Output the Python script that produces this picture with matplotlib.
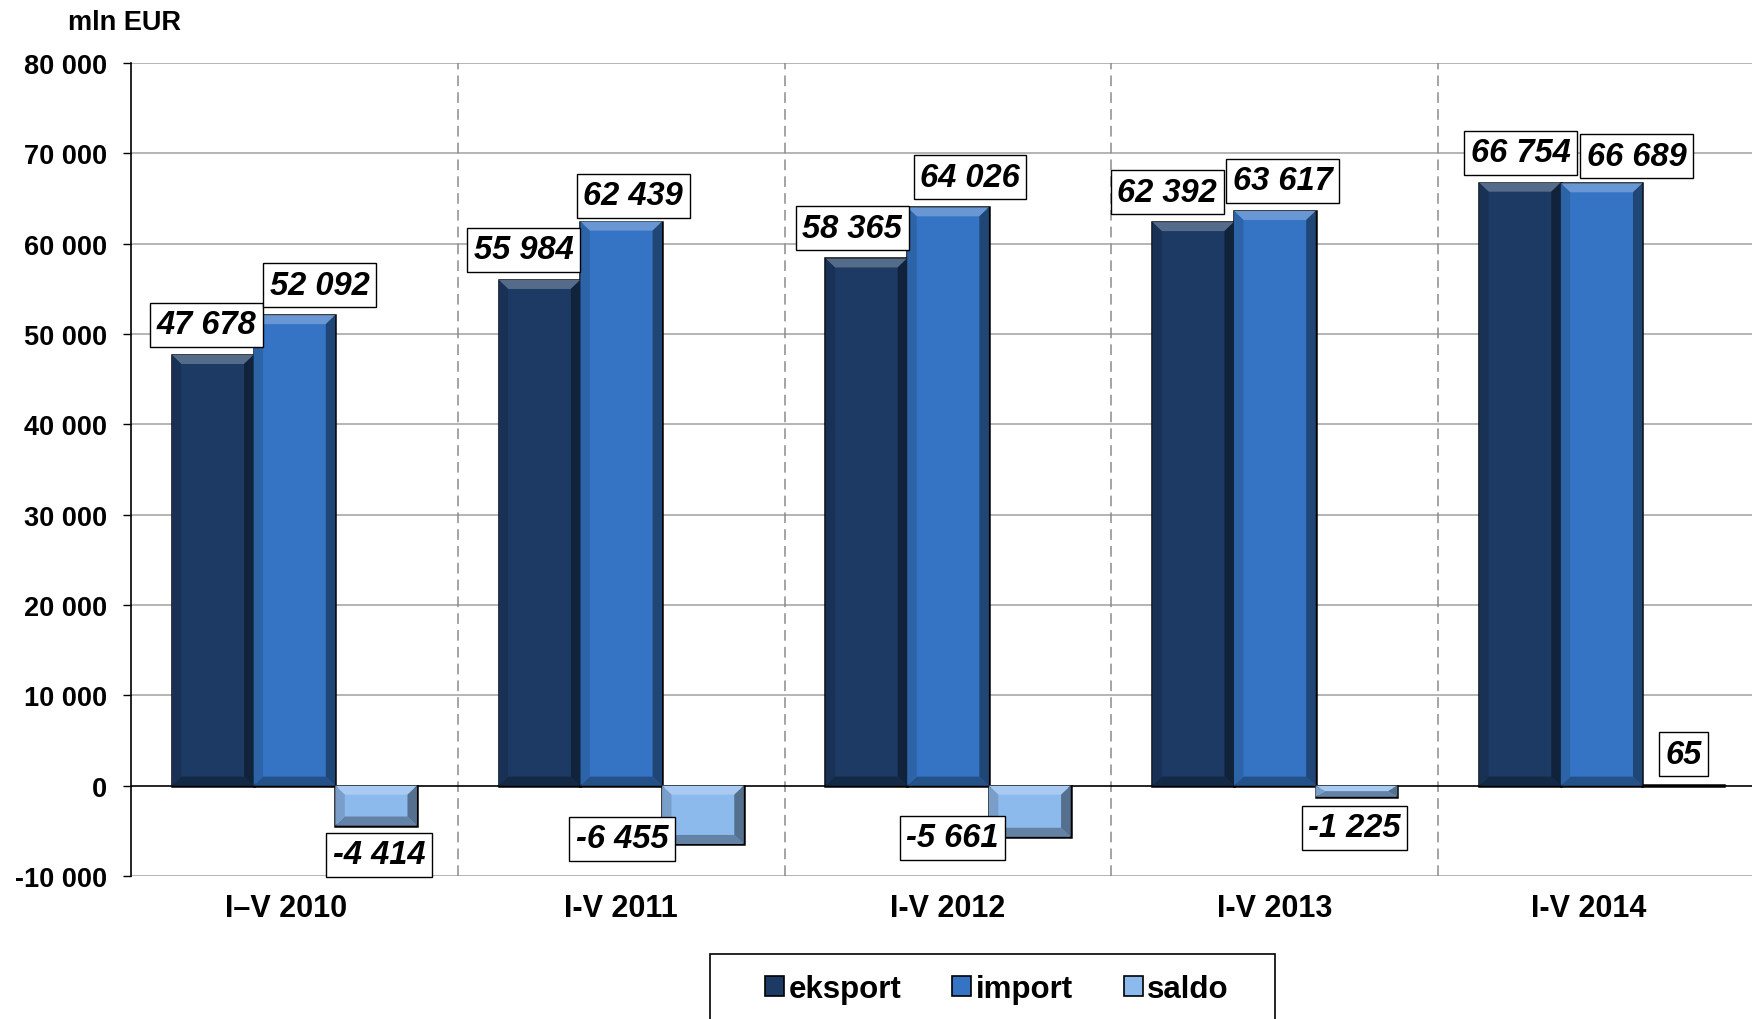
import matplotlib
matplotlib.use("Agg")
import matplotlib.pyplot as plt
from matplotlib.patches import Polygon, Patch, Rectangle
from matplotlib.colors import to_rgb

# data (mln EUR)
periods = ["I–V 2010", "I-V 2011", "I-V 2012", "I-V 2013", "I-V 2014"]
eksport = [47678, 55984, 58365, 62392, 66754]
imports = [52092, 62439, 64026, 63617, 66689]
saldo = [-4414, -6455, -5661, -1225, 65]
series_names = ["eksport", "import", "saldo"]

# label placement tweaks (pixels): x shift, distance from bar end
eks_dx = [-6, -16, -14, -26, 1]
imp_dx = [25, 12, 22, 8, 35]
sal_dx = [3, -81, -77, -2, 0]
eks_dy = [30, 30, 30, 30, 30]
imp_dy = [30, 26, 30, 30, 27]
sal_dy = [29, -5, 1, 31, 31]
# category label nudges (axis units)
cat_dx = [-0.024, 0, 0, 0, -0.04]

colors = ["#1C3A63", "#3574C4", "#8DBAEC"]
W = 0.25


def mix(c, other, t):
    c = to_rgb(c)
    o = to_rgb(other)
    return tuple(a * (1 - t) + b * t for a, b in zip(c, o))


def fmt(v):
    s = f"{abs(v):,}".replace(",", " ")
    return "-" + s if v < 0 else s


def bevel(ax, xc, v, color):
    x0, x1 = xc - W / 2, xc + W / 2
    y0, y1 = min(0, v), max(0, v)
    bx = 0.029
    by = min(1000, (y1 - y0) / 2)
    if by < 50:
        return
    parts = [
        ([(x0, y1), (x1, y1), (x1 - bx, y1 - by), (x0 + bx, y1 - by)], mix(color, "white", 0.25)),
        ([(x0, y0), (x1, y0), (x1 - bx, y0 + by), (x0 + bx, y0 + by)], mix(color, "black", 0.3)),
        ([(x0, y0), (x0, y1), (x0 + bx, y1 - by), (x0 + bx, y0 + by)], mix(color, "black", 0.15)),
        ([(x1, y0), (x1, y1), (x1 - bx, y1 - by), (x1 - bx, y0 + by)], mix(color, "black", 0.4)),
    ]
    for pts, c in parts:
        ax.add_patch(Polygon(pts, closed=True, facecolor=c, edgecolor="none", zorder=3))


def main() -> None:
    plt.rcParams["font.family"] = ["Liberation Sans", "DejaVu Sans"]
    fig = plt.figure(figsize=(17.52, 10.2), dpi=100)
    ax = fig.add_axes([131 / 1752, 143 / 1020, 1634 / 1752, 813 / 1020])

    x = list(range(len(periods)))
    all_series = [eksport, imports, saldo]
    offsets = [-W, 0, W]
    dxs = [eks_dx, imp_dx, sal_dx]
    dys = [eks_dy, imp_dy, sal_dy]

    for vals, off, col, dx, dy in zip(all_series, offsets, colors, dxs, dys):
        xs = [i + off for i in x]
        ax.bar(xs, vals, width=W, color=col, edgecolor="black", linewidth=1.8, zorder=2)
        for xi, v, ddx, ddy in zip(xs, vals, dx, dy):
            bevel(ax, xi, v, col)
            ax.annotate(
                fmt(v), xy=(xi, v), xytext=(ddx, ddy if v >= 0 else -ddy),
                textcoords="offset pixels", ha="center", va="center",
                fontsize=23.5, fontweight="bold", fontstyle="italic", zorder=5,
                bbox=dict(boxstyle="square,pad=0.2", facecolor="white",
                          edgecolor="black", linewidth=1),
            )

    ax.set_xlim(-0.5, 4.5)
    ax.set_ylim(-10000, 80000)
    yt = list(range(-10000, 80001, 10000))
    ax.set_yticks(yt)
    ax.set_yticklabels([fmt(v) for v in yt], fontsize=19.5, fontweight="bold")
    ax.tick_params(axis="y", length=6, width=1, pad=11, color="black")
    ax.set_xticks([i + d for i, d in zip(x, cat_dx)])
    ax.set_xticklabels(periods, fontsize=22, fontweight="bold")
    ax.tick_params(axis="x", length=0, pad=12)

    for s in ["top", "right", "bottom"]:
        ax.spines[s].set_visible(False)
    ax.spines["left"].set_color("black")
    ax.spines["left"].set_linewidth(1.2)

    for v in yt:
        if v != 0:
            ax.axhline(v, color="#A0A0A0", linewidth=1.1, zorder=0.5)
    ax.axhline(0, color="black", linewidth=1.2, zorder=1.5)
    for i in x[:-1]:
        ax.axvline(i + 0.5, color="#8C8C8C", linewidth=1.1,
                   linestyle=(0, (7, 4)), zorder=0.6)

    fig.text(68 / 1752, 1 - 23 / 1020, "mln EUR", fontsize=19.5, fontweight="bold",
             ha="left", va="center")

    # legend box (runs off the bottom edge like the original)
    fig.patches.append(Rectangle(
        (710 / 1752, 1 - 1030 / 1020), 565 / 1752, 75 / 1020,
        transform=fig.transFigure, facecolor="white", edgecolor="black",
        linewidth=1.2, zorder=0))
    handles = [Patch(facecolor=c, edgecolor="black", linewidth=1.2) for c in colors]
    fig.legend(
        handles, series_names, loc="center",
        bbox_to_anchor=(997 / 1752, 1 - 990 / 1020), ncol=3,
        prop={"size": 22.5, "weight": "bold"}, frameon=False,
        handlelength=0.6, handleheight=0.6, handletextpad=0.15,
        columnspacing=1.63, borderpad=0, borderaxespad=0,
    )

    fig.savefig("out.png", dpi=100)


if __name__ == "__main__":
    main()
